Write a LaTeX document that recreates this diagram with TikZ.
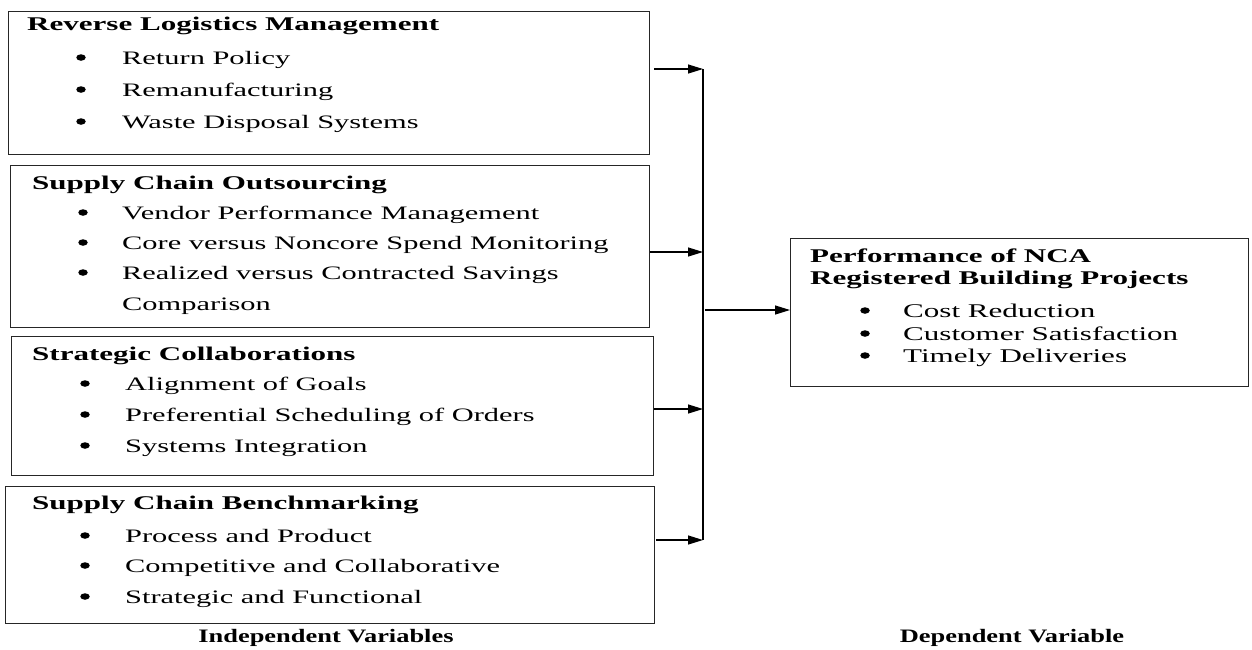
\documentclass[tikz,border=0pt]{standalone}
\usepackage{fontspec}
\setmainfont{Liberation Serif}[FakeStretch=1.6]
\newfontfamily\lblfont{Liberation Serif}[FakeStretch=1.39]
\usetikzlibrary{arrows.meta,shapes.geometric}
\tikzset{
  box/.style={draw=black!85, line width=1.2pt, inner sep=0pt, anchor=north west},
  ttl/.style={anchor=base west, inner sep=0pt, font=\bfseries\fontsize{19.4}{22}\selectfont},
  itm/.style={anchor=base west, inner sep=0pt, font=\fontsize{19}{22}\selectfont},
  ritm/.style={anchor=base west, inner sep=0pt, font=\fontsize{19.4}{22}\selectfont},
  bul/.style={ellipse, fill=black, inner sep=0pt, minimum width=9.5pt, minimum height=6.5pt},
  lbl/.style={anchor=base, inner sep=0pt, font=\lblfont\bfseries\fontsize{19}{22}\selectfont},
  arr/.style={line width=1.2pt, -{Triangle[length=15pt,width=9pt]}},
  spine/.style={line width=1.8pt}
}
\newcommand\bitem[5]{%
  \node[bul] (#1b) at (#2,#4-6.5) {};
  \node[itm] (#1) at (#3,#4) {#5};}
\begin{document}
\begin{tikzpicture}[x=1pt,y=-1pt]
\useasboundingbox (0,0) rectangle (1252,649);
% boxes
\node[box, minimum width=641pt, minimum height=143pt] (b1) at (8,11) {};
\node[box, minimum width=639pt, minimum height=162pt] (b2) at (10,165) {};
\node[box, minimum width=642pt, minimum height=139pt] (b3) at (11,336) {};
\node[box, minimum width=649pt, minimum height=137pt] (b4) at (5,486) {};
\node[box, minimum width=458pt, minimum height=148pt] (dv) at (790,238) {};
% box 1
\node[ttl] (t1) at (27,30) {Reverse Logistics Management};
\bitem{i11}{81}{122}{64}{Return Policy}
\bitem{i12}{81}{122}{96}{Remanufacturing}
\bitem{i13}{81}{122}{128}{Waste Disposal Systems}
% box 2
\node[ttl] (t2) at (32,189) {Supply Chain Outsourcing};
\bitem{i21}{83}{122}{219}{Vendor Performance Management}
\bitem{i22}{83}{122}{249}{Core versus Noncore Spend Monitoring}
\bitem{i23}{83}{122}{279}{Realized versus Contracted Savings}
\node[itm] (i24) at (122,310) {Comparison};
% box 3
\node[ttl] (t3) at (32,360) {Strategic Collaborations};
\bitem{i31}{85}{125}{390}{Alignment of Goals}
\bitem{i32}{85}{125}{421}{Preferential Scheduling of Orders}
\bitem{i33}{85}{125}{452}{Systems Integration}
% box 4
\node[ttl] (t4) at (32,509) {Supply Chain Benchmarking};
\bitem{i41}{85}{125}{542}{Process and Product}
\bitem{i42}{85}{125}{572}{Competitive and Collaborative}
\bitem{i43}{85}{125}{603}{Strategic and Functional}
% dependent box
\node[ttl] (t5) at (810,262) {Performance of NCA};
\node[ttl] (t6) at (810,284) {Registered Building Projects};
\node[bul] (r1b) at (865,317-6.5) {};
\node[ritm] (r1) at (903,317) {Cost Reduction};
\node[bul] (r2b) at (865,340-6.5) {};
\node[ritm] (r2) at (903,340) {Customer Satisfaction};
\node[bul] (r3b) at (865,362-6.5) {};
\node[ritm] (r3) at (903,362) {Timely Deliveries};
% labels
\node[lbl] (l1) at (326,642) {Independent Variables};
\node[lbl] (l2) at (1012,642) {Dependent Variable};
% connectors
\coordinate (j1) at (703,69);
\coordinate (j2) at (703,252);
\coordinate (j3) at (703,409);
\coordinate (j4) at (703,540);
\coordinate (jo) at (705,310);
\draw[spine] (j1) -- (j4);
\draw[arr] ([xshift=4pt]b1.east |- j1) -- (j1);
\draw[arr] (b2.east |- j2) -- (j2);
\draw[arr] (b3.east |- j3) -- (j3);
\draw[arr] ([xshift=1pt]b4.east |- j4) -- (j4);
\draw[arr] (jo) -- (dv.west |- jo);
\end{tikzpicture}
\end{document}
